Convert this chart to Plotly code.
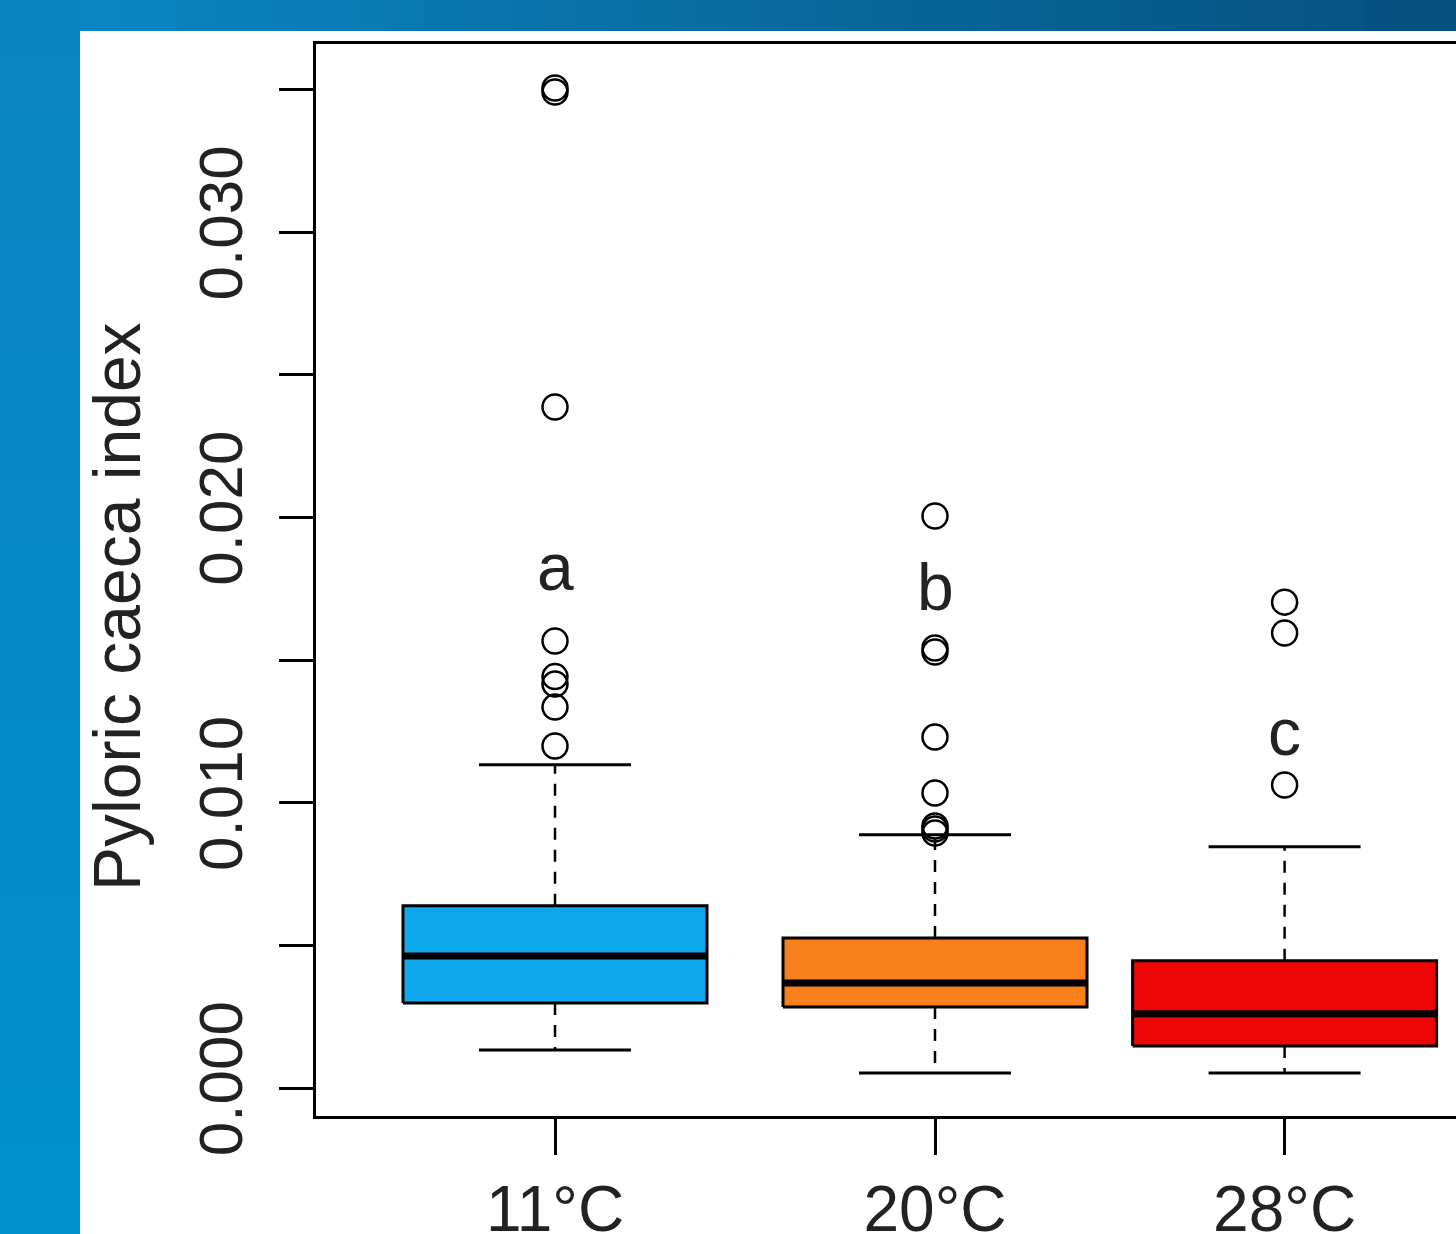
import plotly.graph_objects as go

# ---------------- data ----------------
groups = ["11°C", "20°C", "28°C"]
x_pos = [1.0, 2.0, 2.92]
q1 = [0.00298, 0.00284, 0.00147]
median = [0.00463, 0.00368, 0.00260]
q3 = [0.00639, 0.00526, 0.00446]
whisk_lo = [0.00133, 0.00053, 0.00053]
whisk_hi = [0.01133, 0.00888, 0.00846]
outliers_11 = [0.01199, 0.01335, 0.01416, 0.01442, 0.01567, 0.02387, 0.03491, 0.03505]
outliers_20 = [0.00894, 0.00908, 0.00918, 0.01034, 0.01230, 0.01528, 0.01542, 0.02005]
outliers_28 = [0.01062, 0.01595, 0.01703]
outliers = [outliers_11, outliers_20, outliers_28]
letters = ["a", "b", "c"]
letter_y = [0.01827, 0.01756, 0.01248]
box_colors = ["#10A8EC", "#F7801A", "#EE0505"]
y_ticks = [0.000, 0.005, 0.010, 0.015, 0.020, 0.025, 0.030, 0.035]
y_tick_text = ["0.000", "", "0.010", "", "0.020", "", "0.030", ""]
y_title = "Pyloric caeca index"

W, H = 1456, 1234
FONT = "Liberation Sans, Arial, sans-serif"
half = 0.4      # box half width (x units)
cap = 0.2       # whisker cap half width

fig = go.Figure()

for i, g in enumerate(groups):
    x = x_pos[i]
    # box
    fig.add_trace(go.Scatter(
        x=[x - half, x + half, x + half, x - half, x - half],
        y=[q1[i], q1[i], q3[i], q3[i], q1[i]],
        mode="lines", fill="toself", fillcolor=box_colors[i],
        line=dict(color="black", width=3), hoverinfo="skip", showlegend=False))
    # median
    fig.add_trace(go.Scatter(
        x=[x - half, x + half], y=[median[i], median[i]],
        mode="lines", line=dict(color="black", width=7),
        hoverinfo="skip", showlegend=False))
    # dashed whiskers
    for a, b in [(q3[i], whisk_hi[i]), (q1[i], whisk_lo[i])]:
        fig.add_trace(go.Scatter(
            x=[x, x], y=[a, b], mode="lines",
            line=dict(color="black", width=2.5, dash="12px,10px"),
            hoverinfo="skip", showlegend=False))
    # caps
    for v in [whisk_hi[i], whisk_lo[i]]:
        fig.add_trace(go.Scatter(
            x=[x - cap, x + cap], y=[v, v], mode="lines",
            line=dict(color="black", width=3),
            hoverinfo="skip", showlegend=False))
    # outliers
    fig.add_trace(go.Scatter(
        x=[x] * len(outliers[i]), y=outliers[i], mode="markers",
        marker=dict(symbol="circle-open", size=25, color="black",
                    line=dict(width=2.5, color="black")),
        name=g, showlegend=False))
    # significance letters
    fig.add_annotation(x=x, y=letter_y[i], xref="x", yref="y",
                       text=letters[i], showarrow=False,
                       font=dict(family=FONT, size=66, color="#222"),
                       xanchor="center", yanchor="middle")

# ---------------- background (slide) ----------------
def hexrgb(h):
    h = h.lstrip("#")
    return tuple(int(h[k:k + 2], 16) for k in (0, 2, 4))

def lerp(c1, c2, t):
    a, b = hexrgb(c1), hexrgb(c2)
    return "rgb(%d,%d,%d)" % tuple(round(a[k] + (b[k] - a[k]) * t) for k in range(3))

shapes = []
n = 48
for k in range(n):
    x0, x1 = k / n, (k + 1) / n + 0.002
    shapes.append(dict(type="rect", xref="paper", yref="paper", layer="below",
                       x0=x0, x1=x1, y0=1 - 31 / H, y1=1,
                       fillcolor=lerp("#0B88C4", "#05507F", k / (n - 1)), line_width=0))
m = 20
for k in range(m):
    y1 = 1 - k / m * (1 - 31 / H) + 0.002
    y0 = 1 - (k + 1) / m * (1 - 31 / H)
    if k == m - 1:
        y0 = 0
    shapes.append(dict(type="rect", xref="paper", yref="paper", layer="below",
                       x0=0, x1=80 / W, y0=y0, y1=y1,
                       fillcolor=lerp("#0A84C0", "#018FCE", k / (m - 1)), line_width=0))
shapes.append(dict(type="rect", xref="paper", yref="paper", layer="below",
                   x0=80 / W, x1=1.01, y0=-0.01, y1=1 - 31 / H,
                   fillcolor="white", line_width=0))

# ---------------- axes ----------------
px_per_unit = 380.0
x_left = x_pos[0] - (555 - 316) / px_per_unit
x_right = x_pos[0] + (1456 - 555) / px_per_unit
px_per_y = 28.53 / 0.001
y_bottom = -(1116 - 1088) / px_per_y
y_top = (1088 - 44) / px_per_y

fig.update_layout(
    width=W, height=H, autosize=False,
    margin=dict(l=0, r=0, t=0, b=0, pad=0),
    paper_bgcolor="#0A7CBA", plot_bgcolor="rgba(0,0,0,0)",
    shapes=shapes,
    font=dict(family=FONT, color="#222"),
    xaxis=dict(domain=[316 / W, 1.0], range=[x_left, x_right],
               showgrid=False, zeroline=False, automargin=False,
               showline=True, linecolor="black", linewidth=3, mirror=True,
               tickmode="array", tickvals=x_pos, ticktext=groups,
               ticks="outside", ticklen=36, tickwidth=3, tickcolor="black",
               ticklabelstandoff=-1,
               tickfont=dict(family=FONT, size=64, color="#222")),
    yaxis=dict(domain=[(H - 1116) / H, (H - 44) / H], range=[y_bottom, y_top],
               showgrid=False, zeroline=False, automargin=False,
               showline=True, linecolor="black", linewidth=3, mirror=False,
               tickmode="array", tickvals=y_ticks, ticktext=y_tick_text,
               ticks="outside", ticklen=34, tickwidth=3, tickcolor="black",
               tickangle=-90, ticklabelstandoff=12,
               tickfont=dict(family=FONT, size=62, color="#222")),
)

fig.add_annotation(x=117 / W, y=1 - 607 / H, xref="paper", yref="paper",
                   text=y_title, textangle=-90, showarrow=False,
                   font=dict(family=FONT, size=66, color="#222"),
                   xanchor="center", yanchor="middle")

fig.write_html(
    "out.html",
    config={"displayModeBar": False},
    post_script="document.body.style.margin='0';document.body.style.overflow='hidden';",
)
